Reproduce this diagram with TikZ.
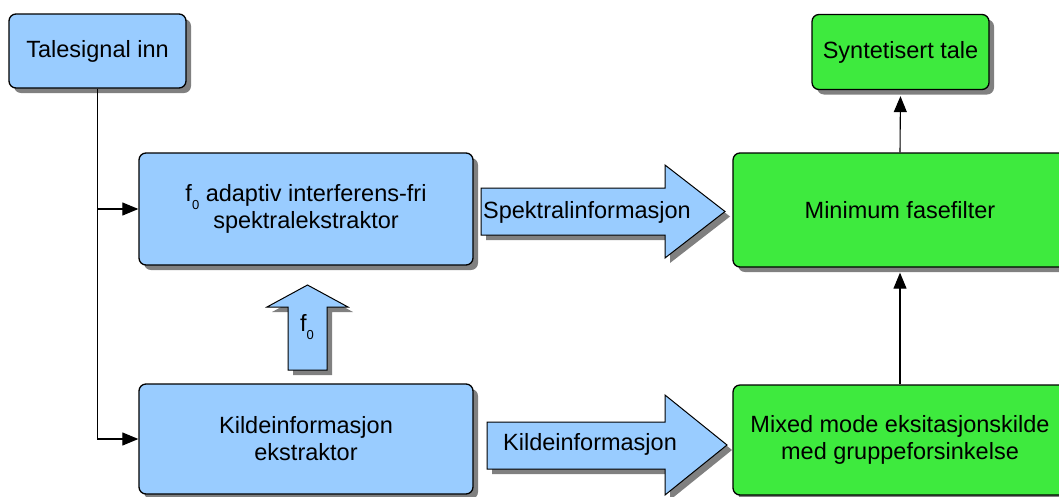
\documentclass[tikz,border=0pt]{standalone}
\usepackage{fontspec}
\setmainfont{Liberation Sans}
\usetikzlibrary{shadows,arrows.meta}
\definecolor{lblue}{RGB}{153,204,255}
\definecolor{lgreen}{RGB}{62,234,62}
\definecolor{shad}{RGB}{128,128,128}
\newcommand{\fnull}{f\raisebox{-0.35em}{\fontsize{13}{13}\selectfont 0}}
\begin{document}
\begin{tikzpicture}[x=1pt,y=-1pt,
  myshadow/.style={drop shadow={shadow xshift=5pt,shadow yshift=-5pt,fill=shad,opacity=1}},
  box/.style={draw=black,line width=1.3pt,rounded corners=7pt,align=center,
    font=\fontsize{23.5}{27}\selectfont,inner sep=0pt,myshadow},
  bluebox/.style={box,fill=lblue},
  greenbox/.style={box,fill=lgreen},
  conn/.style={line width=1.1pt,-{Triangle[length=16pt,width=13pt]}},
  blockarrow/.style={draw=black,line width=1pt,fill=lblue,myshadow},
  lbl/.style={font=\fontsize{23.5}{27}\selectfont,inner sep=0pt}]
\useasboundingbox (0,0) rectangle (1059,496);

\node[bluebox,minimum width=177pt,minimum height=74pt] (tale) at (97.5,51) {Talesignal inn};
\node[bluebox,minimum width=334pt,minimum height=112pt] (spek) at (306,209) {\fnull{} adaptiv interferens-fri\\spektralekstraktor};
\node[bluebox,minimum width=334pt,minimum height=110pt] (kilde) at (306,439) {Kildeinformasjon\\ekstraktor};
\node[greenbox,minimum width=177pt,minimum height=75pt] (synt) at (900.5,52) {Syntetisert tale};
\node[greenbox,minimum width=334pt,minimum height=114pt] (minfase) at (900,210) {Minimum fasefilter};
\node[greenbox,minimum width=334pt,minimum height=110pt] (mixed) at (900,440) {Mixed mode eksitasjonskilde\\med gruppeforsinkelse};

% input connectors
\draw[conn] (tale.south) |- (kilde.west);
\draw[conn] (tale.south |- spek.west) -- (spek.west);

% output connectors
\draw[conn,shorten >=6pt] (minfase.north) -- (synt.south);
\draw[conn,shorten >=5pt] (mixed.north) -- (minfase.south);

% block arrows
\filldraw[blockarrow] (481,188) -- (665,188) -- (665,165) -- (725,211.5) -- (665,258) -- (665,235) -- (481,235) -- cycle;
\node[lbl] (spekinfo) at (587,212) {Spektralinformasjon};

\filldraw[blockarrow] (487,422) -- (665,422) -- (665,395) -- (727,445) -- (665,495) -- (665,469) -- (487,469) -- cycle;
\node[lbl] (kildeinfo) at (590,444) {Kildeinformasjon};

\filldraw[blockarrow] (288,370) -- (288,307) -- (267,307) -- (307.5,285) -- (348,307) -- (327,307) -- (327,370) -- cycle;
\node[lbl] (fnullinfo) at (307,327) {\fnull};
\end{tikzpicture}
\end{document}
